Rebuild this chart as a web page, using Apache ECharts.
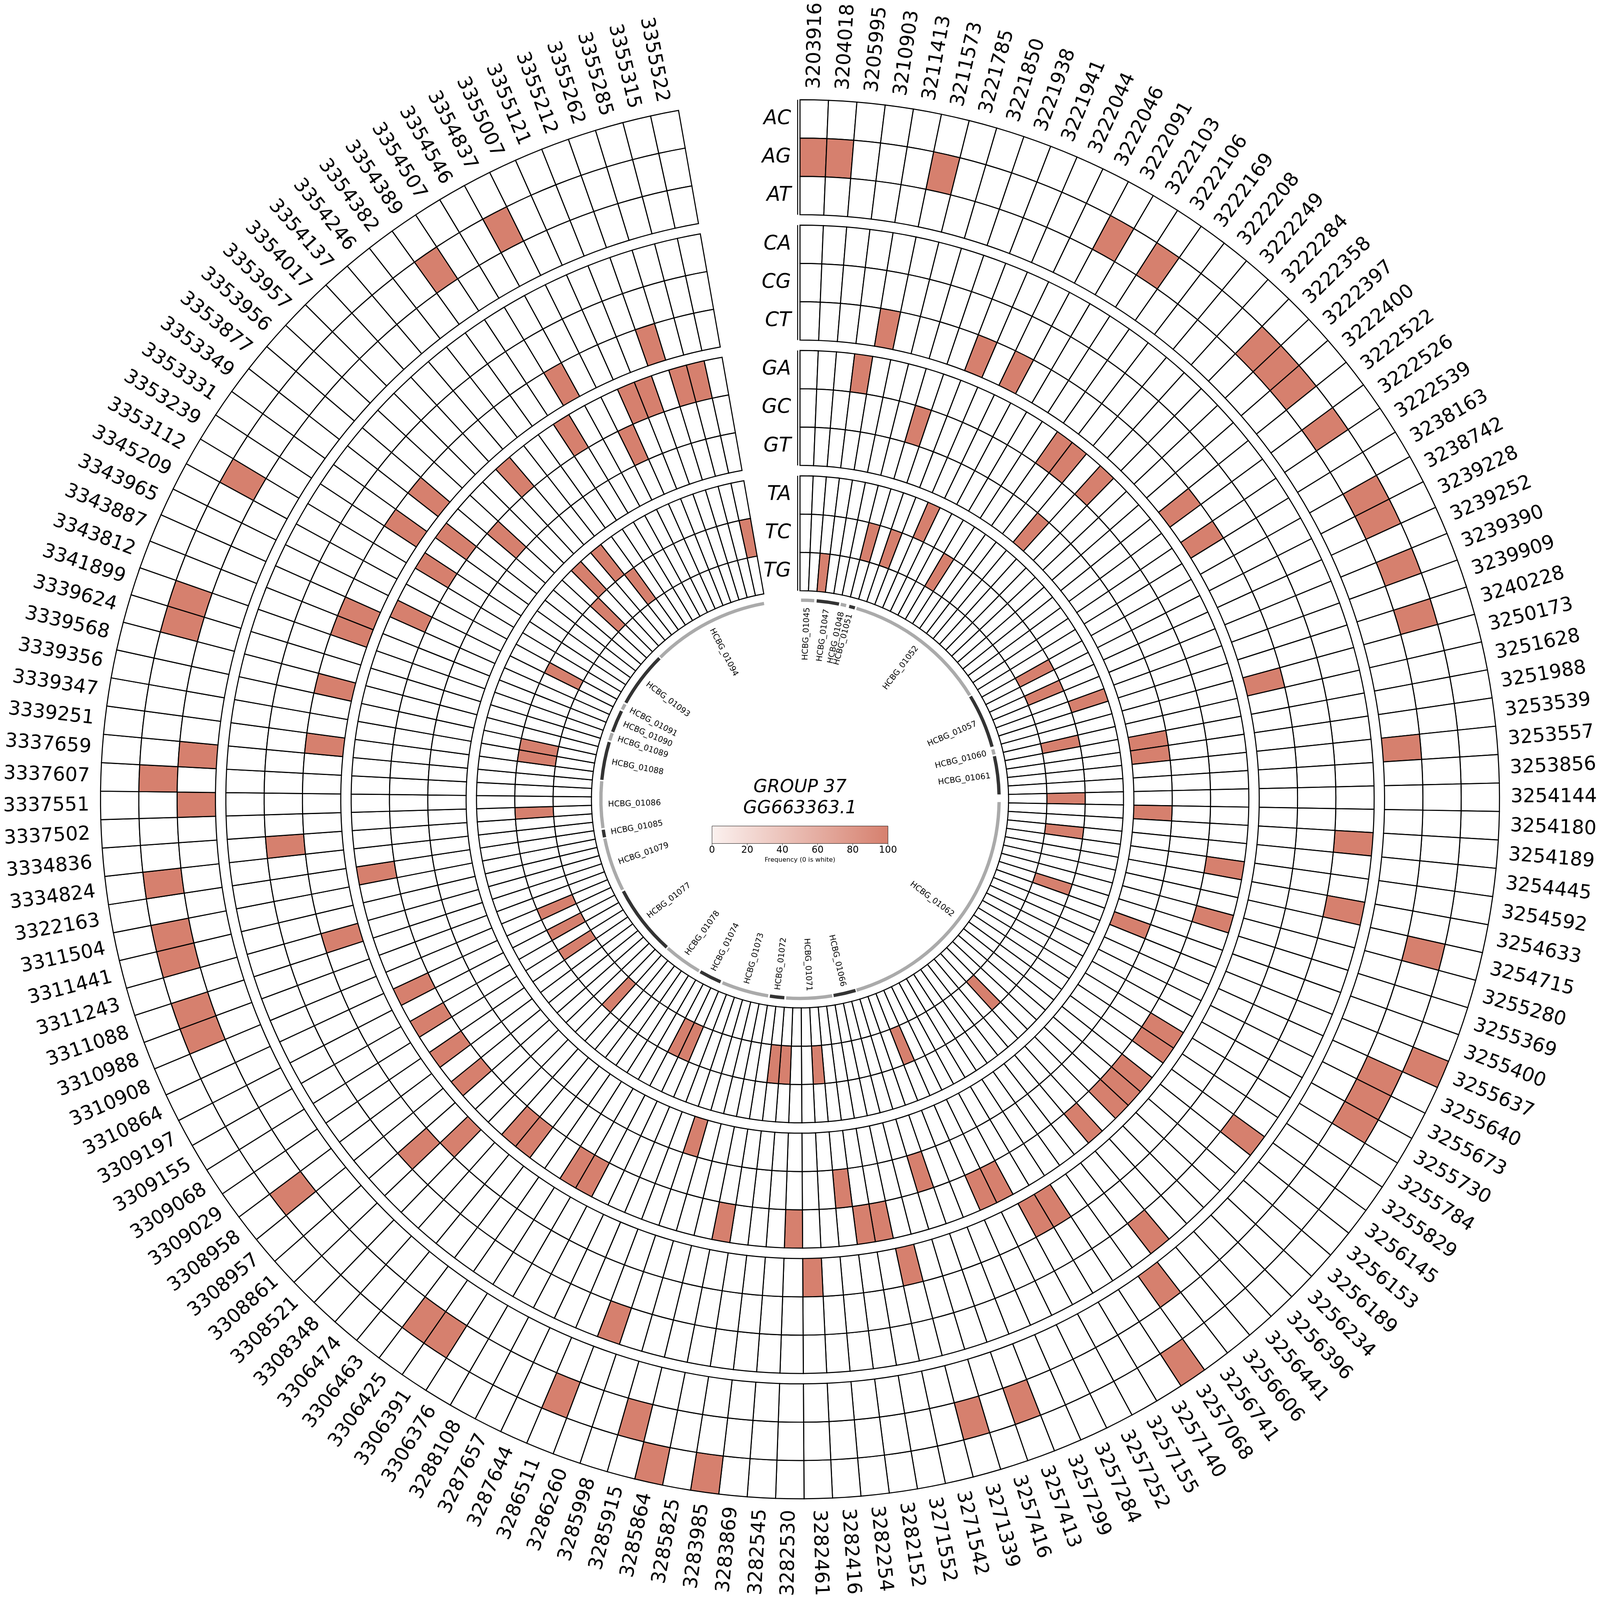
<!DOCTYPE html>
<html>
<head>
<meta charset="utf-8">
<script src="https://cdn.jsdelivr.net/npm/echarts@6/dist/echarts.min.js"></script>
<style>html,body{margin:0;padding:0;background:#fff;overflow:hidden}#chart{width:100vw;height:100vh}</style>
</head>
<body>
<div id="chart"></div>
<script>
// column labels (positions), clockwise from the top
var positions = [3203916,3204018,3205995,3210903,3211413,3211573,3221785,3221850,3221938,3221941,
  3222044,3222046,3222091,3222103,3222106,3222169,3222208,3222249,3222284,3222358,
  3222397,3222400,3222522,3222526,3222539,3238163,3238742,3239228,3239252,3239390,
  3239909,3240228,3250173,3251628,3251988,3253539,3253557,3253856,3254144,3254180,
  3254189,3254445,3254592,3254633,3254715,3255280,3255369,3255400,3255637,3255640,
  3255673,3255730,3255784,3255829,3256145,3256153,3256189,3256234,3256396,3256441,
  3256606,3256741,3257068,3257140,3257155,3257252,3257284,3257299,3257413,3257416,
  3271339,3271542,3271552,3282152,3282254,3282416,3282461,3282530,3282545,3283869,
  3283985,3285825,3285864,3285915,3285998,3286260,3286511,3287644,3287657,3288108,
  3306376,3306391,3306425,3306463,3306474,3308348,3308521,3308861,3308957,3308958,
  3309029,3309068,3309155,3309197,3310864,3310908,3310988,3311088,3311243,3311441,
  3311504,3322163,3334824,3334836,3337502,3337551,3337607,3337659,3339251,3339347,
  3339356,3339568,3339624,3341899,3343812,3343887,3343965,3345209,3353112,3353239,
  3353331,3353349,3353877,3353956,3353957,3354017,3354137,3354246,3354382,3354389,
  3354507,3354546,3354837,3355007,3355121,3355212,3355262,3355285,3355315,3355522];

var rowNames = ['AC','AG','AT','CA','CG','CT','GA','GC','GT','TA','TC','TG'];

// columns with frequency 100 for each substitution (all others are 0)
var hitAC = [48,62,80,82];
var hitAG = [0,1,5,12,14,19,20,21,23,26,27,29,31,44,49,50,51,68,70,83,86,91,92,99,106,107,109,110,112,116,122,123,128,139,142];
var hitAT = [36,61,115,117];
var hitCA = [40,43,54,60,85];
var hitCG = [97,113];
var hitCT = [4,9,11,22,24,32,63,64,71,76,96,108,118,121,124,125,130,132,141,146];
var hitGA = [3,15,16,18,42,45,52,53,55,56,57,59,65,66,72,73,77,81,89,90,93,94,98,100,102,104,111,126,129,131,136,140,144,145,147,148];
var hitGC = [7,69,74,133,143];
var hitGT = [17,34,35,39,47,84];
var hitTA = [10,30,135,137];
var hitTC = [6,8,13,26,28,33,38,41,46,58,67,75,78,79,87,88,95,101,103,105,114,119,120,127,134,138,149];
var hitTG = [2];
var hits = [hitAC,hitAG,hitAT,hitCA,hitCG,hitCT,hitGA,hitGC,hitGT,hitTA,hitTC,hitTG];

// genes: name, start angle, end angle (degrees clockwise from top), shade
var geneNames = ['HCBG_01045','HCBG_01047','HCBG_01048','HCBG_01051','HCBG_01052','HCBG_01057','HCBG_01060','HCBG_01061',
  'HCBG_01062','HCBG_01066','HCBG_01071','HCBG_01072','HCBG_01073','HCBG_01074','HCBG_01078','HCBG_01077',
  'HCBG_01079','HCBG_01085','HCBG_01086','HCBG_01088','HCBG_01089','HCBG_01090','HCBG_01091','HCBG_01093','HCBG_01094'];
var geneStart = [0.3,4.8,11.8,14.3,16.5,58.9,75.5,77.5,90.8,163.8,170.7,184.5,189.2,203.5,210.5,222.0,243.0,259.0,261.7,275.6,287.2,289.8,296.8,299.0,315.5];
var geneEnd   = [4.1,11.3,13.4,16.0,58.5,74.7,77.0,88.6,163.5,170.3,184.0,188.7,202.9,210.0,221.6,242.5,258.6,261.2,275.2,286.7,289.4,296.3,298.5,315.1,349.6];
var geneDark  = [0,1,0,1,0,1,0,1,0,1,0,1,0,1,0,1,0,1,0,1,0,1,0,1,0];

var colorTicks = [0,20,40,60,80,100];

var chartDom = document.getElementById('chart');
var S = chartDom.clientWidth / 6766;   // layout below is in reference pixels
var NCOL = positions.length;
var W = 350 / NCOL;          // angular width of a column
var CX = 3383, CY = 3380, ROUT = 2958;
var ROWH = 162, TRACK = 530;
var HOT = [214,128,110];

function rowOuter(r) { return ROUT - Math.floor(r / 3) * TRACK - (r % 3) * ROWH; }
function freqColor(v) {
  if (!v) return '#ffffff';
  var t = v / 100, c = HOT.map(function (h) { return Math.round(255 + (h - 255) * t); });
  return 'rgb(' + c.join(',') + ')';
}

var cellData = [];
for (var r = 0; r < rowNames.length; r++) {
  for (var c = 0; c < NCOL; c++) {
    var v = hits[r].indexOf(c) >= 0 ? 100 : 0;
    cellData.push([rowOuter(r), c * W, c, r, v]);
  }
}
var labelData = positions.map(function (p, i) { return [3005, (i + 0.5) * W, i]; });
var geneData = geneNames.map(function (g, i) { return [842, geneStart[i], i]; });

function polarRing(api, r0, r1, a0, a1) {
  var o = api.coord([0, 0]);
  var p0 = api.coord([r0, a0]), p1 = api.coord([r1, a1]);
  var s = Math.atan2(p0[1] - o[1], p0[0] - o[0]);
  var e = Math.atan2(p1[1] - o[1], p1[0] - o[0]);
  if (e < s) e += Math.PI * 2;
  return { cx: o[0], cy: o[1], r0: Math.hypot(p0[0] - o[0], p0[1] - o[1]),
    r: Math.hypot(p1[0] - o[0], p1[1] - o[1]), startAngle: s, endAngle: e, clockwise: true };
}

function radialText(api, rad, ang, text, size, inward) {
  var p = api.coord([rad, ang]);
  var right = ang < 180;
  var rot = (right ? 90 - ang : 270 - ang) * Math.PI / 180;
  var align = inward ? (right ? 'right' : 'left') : (right ? 'left' : 'right');
  return { type: 'text', x: p[0], y: p[1], rotation: rot,
    style: { text: text, fontSize: size * S, fontFamily: 'DejaVu Sans', fill: '#000', align: align, verticalAlign: 'middle' } };
}

var chart = echarts.init(chartDom, null, { renderer: 'canvas' });
var option = {
  backgroundColor: '#fff',
  animation: false,
  polar: { center: [CX * S, CY * S], radius: ROUT * S },
  angleAxis: { type: 'value', min: 0, max: 360, startAngle: 90, clockwise: true, show: false },
  radiusAxis: { type: 'value', min: 0, max: ROUT, show: false },
  series: [{
    type: 'custom', coordinateSystem: 'polar', data: cellData, silent: true,
    renderItem: function (params, api) {
      var col = api.value(2), row = api.value(3), v = api.value(4);
      var ro = rowOuter(row);
      return { type: 'sector', shape: polarRing(api, ro - ROWH, ro, col * W, (col + 1) * W),
        style: { fill: freqColor(v), stroke: '#000', lineWidth: 4.5 * S } };
    }
  }, {
    type: 'custom', coordinateSystem: 'polar', data: labelData, silent: true,
    renderItem: function (params, api) {
      var i = api.value(2);
      return radialText(api, 3005, (i + 0.5) * W, String(positions[i]), 82, false);
    }
  }, {
    type: 'custom', coordinateSystem: 'polar', data: geneData, silent: true,
    renderItem: function (params, api) {
      var i = api.value(2);
      var mid = (geneStart[i] + geneEnd[i]) / 2;
      return { type: 'group', children: [
        { type: 'sector', shape: polarRing(api, 835, 849, geneStart[i], geneEnd[i]),
          style: { fill: geneDark[i] ? '#333333' : '#aaaaaa' } },
        radialText(api, 812, mid, geneNames[i], 34, true)
      ] };
    }
  }],
  graphic: []
};

function txt(x, y, s, size, align, italic) {
  return { type: 'text', x: x * S, y: y * S, style: { text: s, fontSize: size * S, fontStyle: italic ? 'italic' : 'normal',
    fontFamily: 'DejaVu Sans', fill: '#000', align: align, verticalAlign: 'middle' } };
}
function seg(x1, y1, x2, y2, w) {
  return { type: 'line', shape: { x1: x1 * S, y1: y1 * S, x2: x2 * S, y2: y2 * S }, style: { stroke: '#000', lineWidth: w * S } };
}

// row labels and track brackets in the gap at the top
rowNames.forEach(function (n, r) {
  option.graphic.push(txt(3345, CY - (rowOuter(r) - ROWH / 2), n, 84, 'right', true));
});
for (var t = 0; t < 4; t++) {
  option.graphic.push(seg(3373, CY - (ROUT - t * TRACK), 3373, CY - (ROUT - t * TRACK - 3 * ROWH), 4));
}
// centre title
option.graphic.push(txt(CX, 3331, 'GROUP 37', 76, 'center', true));
option.graphic.push(txt(CX, 3420, 'GG663363.1', 76, 'center', true));
// colour bar
var cbX = 3011, cbY = 3493, cbW = 744, cbH = 74;
option.graphic.push({ type: 'rect', shape: { x: cbX * S, y: cbY * S, width: cbW * S, height: cbH * S },
  style: { fill: new echarts.graphic.LinearGradient(0, 0, 1, 0, [{ offset: 0, color: '#fbf1ef' }, { offset: 1, color: freqColor(100) }]), stroke: '#000', lineWidth: 1.5 * S } });
colorTicks.forEach(function (v) {
  var x = cbX + v / 100 * cbW;
  option.graphic.push(seg(x, cbY + cbH, x, cbY + cbH + 8, 1.5));
  option.graphic.push(txt(x, 3596, String(v), 40, 'center', false));
});
option.graphic.push(txt(CX, 3637, 'Frequency (0 is white)', 27, 'center', false));

chart.setOption(option);
</script>
</body>
</html>
